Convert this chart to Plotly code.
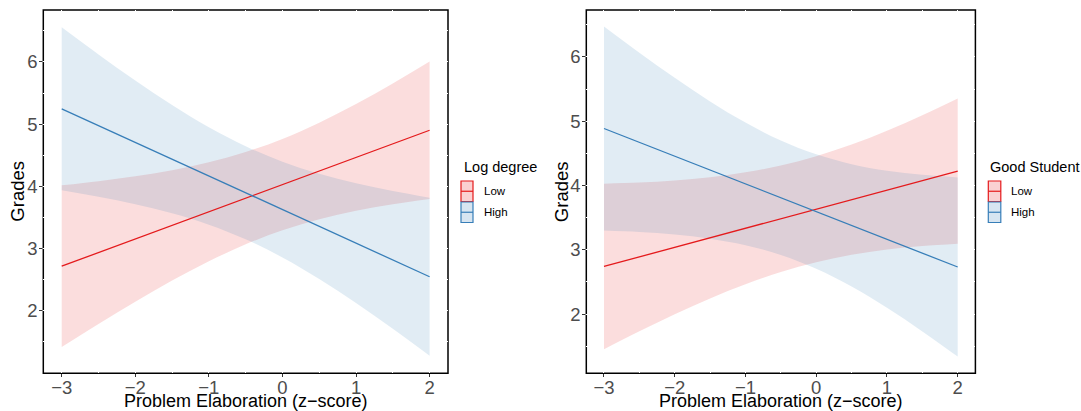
import plotly.graph_objects as go
from plotly.subplots import make_subplots

# ---------------- data ----------------
XS = [-3.0, -2.5, -2.0, -1.5, -1.0, -0.5, 0.0, 0.5, 1.0, 1.5, 2.0]

left_low_fit = [2.717, 2.936, 3.154, 3.373, 3.591, 3.810, 4.028, 4.247, 4.465, 4.684, 4.902]
left_low_upper = [4.017, 4.084, 4.163, 4.261, 4.387, 4.552, 4.763, 5.023, 5.323, 5.655, 6.007]
left_low_lower = [1.417, 1.788, 2.145, 2.485, 2.795, 3.068, 3.293, 3.471, 3.607, 3.713, 3.797]
left_high_fit = [5.247, 4.977, 4.707, 4.437, 4.167, 3.897, 3.627, 3.357, 3.087, 2.817, 2.547]
left_high_upper = [6.557, 6.121, 5.701, 5.307, 4.950, 4.645, 4.397, 4.203, 4.049, 3.924, 3.817]
left_high_lower = [3.937, 3.833, 3.713, 3.567, 3.384, 3.149, 2.857, 2.511, 2.125, 1.710, 1.277]

right_low_fit = [2.742, 2.890, 3.039, 3.187, 3.335, 3.484, 3.632, 3.780, 3.929, 4.077, 4.225]
right_low_upper = [4.029, 4.047, 4.079, 4.129, 4.205, 4.313, 4.457, 4.638, 4.853, 5.094, 5.355]
right_low_lower = [1.455, 1.733, 1.999, 2.245, 2.465, 2.655, 2.807, 2.922, 3.005, 3.060, 3.095]
right_high_fit = [4.887, 4.672, 4.457, 4.241, 4.026, 3.810, 3.595, 3.380, 3.164, 2.949, 2.733]
right_high_upper = [6.474, 6.066, 5.675, 5.308, 4.979, 4.700, 4.485, 4.332, 4.230, 4.166, 4.126]
right_high_lower = [3.300, 3.278, 3.239, 3.174, 3.073, 2.920, 2.705, 2.428, 2.098, 1.732, 1.340]

GROUPS = ["Low", "High"]
LEGEND_TITLES = ["Log degree", "Good Student"]
X_TITLE = "Problem Elaboration (z\u2212score)"
Y_TITLE = "Grades"
X_TICKS = [-3, -2, -1, 0, 1, 2]
Y_TICKS = [2, 3, 4, 5, 6]

# ---------------- styling ----------------
W, H = 1081, 411
FONT = "Liberation Sans, Arial, sans-serif"
LINE_COL = {"Low": "#E41A1C", "High": "#377EB8"}
FILL_COL = {"Low": "rgba(228,26,28,0.15)", "High": "rgba(55,126,184,0.15)"}
KEY_FILL = {"Low": "rgba(228,26,28,0.20)", "High": "rgba(55,126,184,0.20)"}

panels = [
    dict(low=(left_low_lower, left_low_fit, left_low_upper),
         high=(left_high_lower, left_high_fit, left_high_upper),
         yrange=[0.995, 6.835]),
    dict(low=(right_low_lower, right_low_fit, right_low_upper),
         high=(right_high_lower, right_high_fit, right_high_upper),
         yrange=[1.08, 6.73]),
]

fig = make_subplots(rows=1, cols=2)

for i, p in enumerate(panels):
    col = i + 1
    for g in GROUPS:
        lo, fit, up = p["low"] if g == "Low" else p["high"]
        fig.add_trace(go.Scatter(x=XS, y=lo, mode="lines", line=dict(width=0, shape="spline"),
                                 hoverinfo="skip", showlegend=False), row=1, col=col)
        fig.add_trace(go.Scatter(x=XS, y=up, mode="lines", line=dict(width=0, shape="spline"),
                                 fill="tonexty", fillcolor=FILL_COL[g],
                                 hoverinfo="skip", showlegend=False), row=1, col=col)
    for g in GROUPS:
        lo, fit, up = p["low"] if g == "Low" else p["high"]
        fig.add_trace(go.Scatter(x=XS, y=fit, mode="lines", name=g,
                                 line=dict(color=LINE_COL[g], width=1.3),
                                 showlegend=False), row=1, col=col)


def px_x(px):
    return px / W


def px_y(py):
    return 1 - py / H


xdoms = [[px_x(43.3), px_x(448.0)], [px_x(586.3), px_x(975.4)]]
ydom = [px_y(373.3), px_y(10.0)]

axis_common = dict(
    showline=False, zeroline=False, showgrid=True, gridcolor="white", gridwidth=1.2,
    ticks="outside", ticklen=3, tickwidth=1, tickcolor="#333333",
    tickfont=dict(family=FONT, size=18.5, color="#4D4D4D"),
    minor=dict(dtick=0.5, showgrid=True, gridcolor="white", gridwidth=1.2, ticks=""),
)

for i, p in enumerate(panels):
    xa = "xaxis" if i == 0 else "xaxis2"
    ya = "yaxis" if i == 0 else "yaxis2"
    fig.layout[xa].update(domain=xdoms[i], range=[-3.25, 2.25], tickvals=X_TICKS,
                          ticklabelstandoff=-6, **axis_common)
    fig.layout[ya].update(domain=ydom, range=p["yrange"], tickvals=Y_TICKS,
                          ticklabelstandoff=-2, **axis_common)
    xr = "x" if i == 0 else "x2"
    yr = "y" if i == 0 else "y2"
    # panel border (below white gridlines, giving the small gaps)
    fig.add_shape(type="rect", xref=xr + " domain", yref=yr + " domain",
                  x0=0, x1=1, y0=0, y1=1, line=dict(color="black", width=1.5),
                  fillcolor="rgba(0,0,0,0)", layer="below")
    # axis titles
    xc = (xdoms[i][0] + xdoms[i][1]) / 2
    fig.add_annotation(xref="paper", yref="paper", x=xc, y=px_y(400.5), text=X_TITLE,
                       showarrow=False, xanchor="center", yanchor="middle",
                       font=dict(family=FONT, size=18, color="black"))
    ytx = 18.0 if i == 0 else 561.5
    fig.add_annotation(xref="paper", yref="paper", x=px_x(ytx), y=(ydom[0] + ydom[1]) / 2,
                       text=Y_TITLE, textangle=-90, showarrow=False,
                       xanchor="center", yanchor="middle",
                       font=dict(family=FONT, size=18.5, color="black"))

# manual ggplot-style legends
legend_pos = [dict(tx=461.5, kx0=461.0, kx1=473.0, lx=481.5),
              dict(tx=988.3, kx0=988.3, kx1=1000.8, lx=1009.0)]
key_y = {"Low": (181.0, 201.5), "High": (202.0, 222.5)}
for i, lp in enumerate(legend_pos):
    fig.add_annotation(xref="paper", yref="paper", x=px_x(lp["tx"]), y=px_y(166.5),
                       text=LEGEND_TITLES[i], showarrow=False, xanchor="left", yanchor="middle",
                       font=dict(family=FONT, size=14.5, color="black"))
    for g in GROUPS:
        y0, y1 = key_y[g]
        fig.add_shape(type="rect", xref="paper", yref="paper",
                      x0=px_x(lp["kx0"]), x1=px_x(lp["kx1"]), y0=px_y(y1), y1=px_y(y0),
                      line=dict(color=LINE_COL[g], width=1.2), fillcolor=KEY_FILL[g])
        ym = (y0 + y1) / 2
        fig.add_shape(type="line", xref="paper", yref="paper",
                      x0=px_x(lp["kx0"]), x1=px_x(lp["kx1"]), y0=px_y(ym), y1=px_y(ym),
                      line=dict(color=LINE_COL[g], width=1.2))
        fig.add_annotation(xref="paper", yref="paper", x=px_x(lp["lx"]), y=px_y(ym),
                           text=g, showarrow=False, xanchor="left", yanchor="middle",
                           font=dict(family=FONT, size=11.5, color="black"))

fig.update_layout(
    width=W, height=H, margin=dict(l=0, r=0, t=0, b=0),
    paper_bgcolor="white", plot_bgcolor="white", showlegend=False,
    font=dict(family=FONT),
)

fig.write_html("out.html", config={"displayModeBar": False},
               post_script="document.body.style.margin='0px';document.body.style.padding='0px';")
